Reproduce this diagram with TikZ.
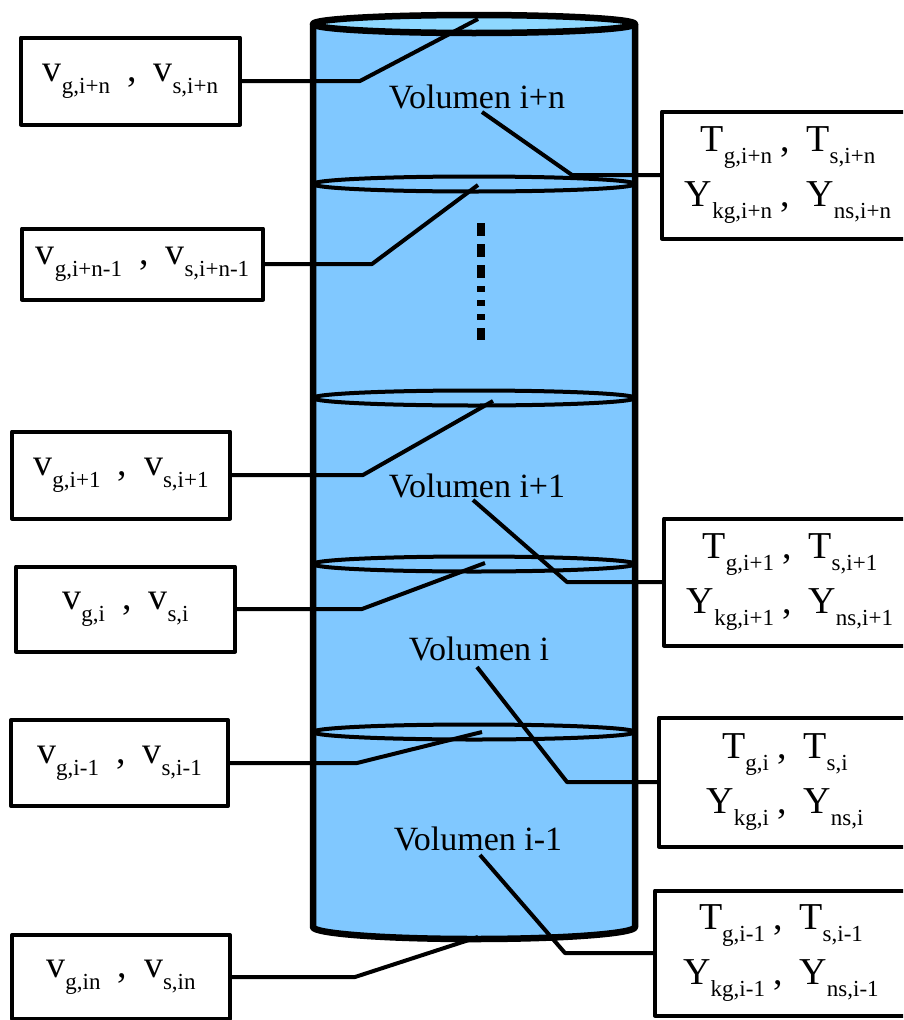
\documentclass[tikz,border=0pt]{standalone}
\usepackage{fontspec}
\setmainfont{Liberation Serif}
\usetikzlibrary{positioning}
\definecolor{tankblue}{RGB}{128,200,255}
\definecolor{tanktop}{RGB}{142,216,255}
\newcommand{\sbs}[1]{\raisebox{-12pt}{\fontsize{23}{23}\selectfont #1}}
\newcommand{\vpair}[2]{v\sbs{#1}\hspace{17pt},\hspace{17pt}v\sbs{#2}}
\newcommand{\typair}[1]{T\sbs{g,#1}\hspace{8pt},\hspace{17pt}T\sbs{s,#1}\\
  Y\sbs{kg,#1}\hspace{8pt},\hspace{17pt}Y\sbs{ns,#1}}
\tikzset{
  vbox/.style={draw, line width=4pt, anchor=east, inner sep=0pt, font=\fontsize{38}{38}\selectfont},
  tbox/.style={draw, line width=4pt, anchor=west, inner sep=0pt, minimum width=252pt,
    align=center, font=\fontsize{38}{55}\selectfont},
  wire/.style={line width=4pt},
  volname/.style={anchor=base, inner sep=0pt, font=\fontsize{34}{34}\selectfont},
}

\begin{document}
\begin{tikzpicture}[x=1pt, y=-1pt, line join=round]
  \useasboundingbox (0,0) rectangle (903,1020);
  \clip (0,0) rectangle (903,1020);

  % tank
  \fill[tankblue] (313,24) -- (313,927) arc[start angle=180, end angle=360, x radius=161pt, y radius=12pt] -- (635,24) -- cycle;
  \foreach \yy in {184,398,564,732}
    \draw[line width=4pt] (474,\yy) ellipse[x radius=161pt, y radius=7.5pt];
  \draw[fill=tanktop, line width=6.5pt] (474,24) ellipse[x radius=161pt, y radius=9pt];
  \draw[line width=6.5pt] (313,24) -- (313,927) arc[start angle=180, end angle=360, x radius=161pt, y radius=12pt] -- (635,24);
  \draw[line width=8pt, dash pattern=on 13pt off 8pt on 13pt off 8pt on 13pt off 8pt on 6pt off 8pt on 6pt off 8pt on 6pt off 8pt on 12pt off 40pt] (481,223) -- (481,343);

  % volumes
  \node[volname] (V1) at (477,108) {Volumen i+n};
  \node[volname] (V2) at (477,497) {Volumen i+1};
  \node[volname] (V3) at (479,660) {Volumen i};
  \node[volname] (V4) at (478,850) {Volumen i-1};

  % velocities
  \node[vbox, minimum width=219pt, minimum height=87pt] (L1) at (242,81) {\vpair{g,i+n}{s,i+n}};
  \node[vbox, minimum width=241pt, minimum height=71pt] (L2) at (265,264) {\vpair{g,i+n-1}{s,i+n-1}};
  \node[vbox, minimum width=218pt, minimum height=87pt] (L3) at (232,475) {\vpair{g,i+1}{s,i+1}};
  \node[vbox, minimum width=219pt, minimum height=85pt] (L4) at (237,609) {\vpair{g,i}{s,i}};
  \node[vbox, minimum width=217pt, minimum height=86pt] (L5) at (230,763) {\vpair{g,i-1}{s,i-1}};
  \node[vbox, minimum width=218pt, minimum height=84pt] (L6) at (232,977) {\vpair{g,in}{s,in}};

  % temperatures and fractions
  \node[tbox, minimum height=127pt] (R1) at (660,175) {\typair{i+n}};
  \node[tbox, minimum height=127pt] (R2) at (662,582) {\typair{i+1}};
  \node[tbox, minimum height=129pt] (R3) at (657,782) {\typair{i}};
  \node[tbox, minimum height=125pt] (R4) at (653,953) {\typair{i-1}};

  % faces
  \coordinate (f1) at (478,19);
  \coordinate (f2) at (478,185);
  \coordinate (f3) at (493,401);
  \coordinate (f4) at (485,563);
  \coordinate (f5) at (482,732);
  \coordinate (f6) at (478,937);

  \draw[wire] (L1.east) -- ++(118,0) -- (f1);
  \draw[wire] (L2.east) -- ++(107,0) -- (f2);
  \draw[wire] (L3.east) -- ++(131,0) -- (f3);
  \draw[wire] (L4.east) -- ++(125,0) -- (f4);
  \draw[wire] (L5.east) -- ++(127,0) -- (f5);
  \draw[wire] (L6.east) -- ++(123,0) -- (f6);

  \draw[wire] ([shift={(5,4)}]V1.base) -- ++(90,63) -- (R1.west);
  \draw[wire] ([shift={(-4,3)}]V2.base) -- ++(94,82) -- (R2.west);
  \draw[wire] ([shift={(-2,7)}]V3.base) -- ++(90,115) -- (R3.west);
  \draw[wire] ([shift={(2,5)}]V4.base) -- ++(85,98) -- (R4.west);
\end{tikzpicture}
\end{document}
